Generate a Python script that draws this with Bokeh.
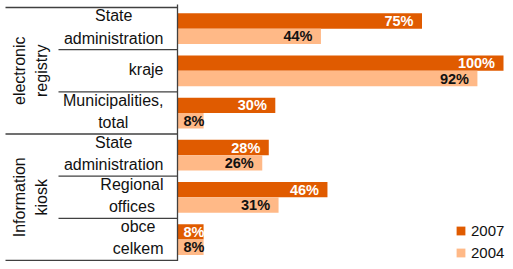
import math
from bokeh.plotting import figure
from bokeh.models import Range1d, Legend, LegendItem
from bokeh.core.properties import value
from bokeh.embed import file_html
from bokeh.resources import INLINE

# ---- data ----
groups = ["electronic\nregistry", "Information\nkiosk"]
group_sizes = [3, 3]
categories = ["State\nadministration", "kraje", "Municipalities,\ntotal",
              "State\nadministration", "Regional\noffices", "obce\ncelkem"]
series = ["2007", "2004"]
values_2007 = [75, 100, 30, 28, 46, 8]
values_2004 = [44, 92, 8, 26, 31, 8]

# ---- layout helpers (screen px -> data units) ----
PX_PER_PCT = 3.26
AXIS_PX = 177
ROW_PX = 42.17
TOP_PX = 7
FIG_W, FIG_H = 505, 261


def xd(px):
    return (px - AXIS_PX) / PX_PER_PCT


def yd(py):
    return (py - TOP_PX) / ROW_PX


FONT = "Liberation Sans"
C07 = "#E05B00"
C04 = "#FFB987"
LINE = "#404040"

p = figure(width=FIG_W, height=FIG_H, output_backend="svg", toolbar_location=None,
           x_range=Range1d(xd(0), xd(FIG_W)), y_range=Range1d(yd(FIG_H), yd(0)),
           x_axis_location=None, y_axis_location=None, min_border=0,
           outline_line_color=None, background_fill_color="white")
p.grid.visible = False

n = len(categories)
y07 = [i + 0.32 for i in range(n)]
y04 = [i + 0.685 for i in range(n)]
BAR_H = 0.365

r07 = p.hbar(y=y07, left=0, right=values_2007, height=BAR_H,
             fill_color=C07, line_color=None)
r04 = p.hbar(y=y04, left=0, right=values_2004, height=BAR_H,
             fill_color=C04, line_color=None)

# value labels, inside end
pad = 8.5 / PX_PER_PCT
min_right = xd(204)
p.text(x=[max(v - pad, min_right) for v in values_2007], y=y07,
       text=[f"{v}%" for v in values_2007], text_align="right",
       text_baseline="middle", text_font=value(FONT), text_font_size="14.5px",
       text_font_style="bold", text_color="white")
p.text(x=[max(v - pad, min_right) for v in values_2004], y=y04,
       text=[f"{v}%" for v in values_2004], text_align="right",
       text_baseline="middle", text_font=value(FONT), text_font_size="14.5px",
       text_font_style="bold", text_color="#111111")

# category labels: block right aligned, lines centered
W = dict(a=.556, b=.556, c=.5, d=.556, e=.556, f=.278, g=.556, h=.556, i=.222,
         j=.222, k=.5, l=.222, m=.833, n=.556, o=.556, p=.556, q=.556, r=.333,
         s=.5, t=.278, u=.556, v=.5, w=.722, x=.5, y=.5, z=.5)
W.update({"S": .667, "A": .667, "M": .833, "R": .722, "I": .278, ",": .278, " ": .278})
CAT_FS = 16


def block_w(s):
    return max(sum(W.get(ch, .556) for ch in line) for line in s.split("\n")) * CAT_FS


cat_x = [xd(163 - block_w(c) / 2) for c in categories]
p.text(x=cat_x, y=[i + 0.46 for i in range(n)], text=categories,
       text_align="center", text_baseline="middle", text_font=value(FONT),
       text_font_size=f"{CAT_FS}px", text_line_height=1.31, text_color="#111111")

# group labels (rotated)
gy = []
start = 0
for g in group_sizes:
    gy.append(start + g / 2)
    start += g
p.text(x=[xd(30)] * len(groups), y=gy, text=groups, angle=math.pi / 2,
       text_align="center", text_baseline="middle", text_font=value(FONT),
       text_font_size="16px", text_line_height=1.3, text_color="#111111")

# table lines
bounds = [0]
for g in group_sizes:
    bounds.append(bounds[-1] + g)
inner = [i for i in range(n + 1) if i not in bounds]
p.segment(x0=[xd(5)] * len(bounds), x1=[0] * len(bounds), y0=bounds, y1=bounds,
          line_color=LINE, line_width=1.3)
p.segment(x0=[xd(58)] * len(inner), x1=[0] * len(inner), y0=inner, y1=inner,
          line_color=LINE, line_width=1.3)
p.segment(x0=[0], x1=[0], y0=[yd(4)], y1=[yd(263)], line_color=LINE, line_width=1.3)

legend = Legend(items=[LegendItem(label=series[0], renderers=[r07]),
                       LegendItem(label=series[1], renderers=[r04])],
                location=(455, 0), glyph_width=11, glyph_height=11,
                label_standoff=5, label_height=16, spacing=5, padding=0,
                margin=0, border_line_color=None, background_fill_alpha=0,
                label_text_font=FONT, label_text_font_size="15px",
                label_text_color="#111111")
p.add_layout(legend)

open("out.html", "w").write(file_html(p, INLINE))
